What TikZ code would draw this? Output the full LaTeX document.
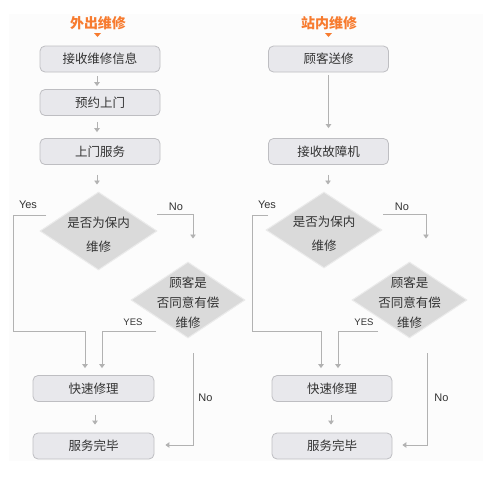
\documentclass[tikz,border=0pt]{standalone}
\usepackage{fontspec}
\setmainfont{Noto Sans CJK SC}
\newfontfamily\latinsans{Liberation Sans}
\usetikzlibrary{arrows.meta,shapes.geometric}
\definecolor{boxfill}{HTML}{E8E8EC}
\definecolor{boxline}{HTML}{BEBEC2}
\definecolor{dfill}{HTML}{DADADA}
\definecolor{dline}{HTML}{EBEBEB}
\definecolor{conn}{HTML}{B2B2B2}
\definecolor{txt}{HTML}{333333}
\definecolor{orng}{HTML}{F77B2F}
\definecolor{panel}{HTML}{FCFCFC}
\newcommand{\dtext}[3]{\raisebox{#1}[0pt][0pt]{\makebox[0pt]{\fontsize{12.5}{#2}\selectfont\begin{tabular}{@{}c@{}}#3\end{tabular}}}}
\tikzset{
  stepbox/.style={draw=boxline, fill=boxfill, rounded corners=5pt, line width=0.8pt,
    minimum width=120pt, minimum height=26pt, inner sep=0pt, text=txt, font=\fontsize{12.5}{14}\selectfont},
  decision/.style={diamond, draw=dline, fill=dfill, line width=1pt, inner sep=0pt,
    text=txt},
  title/.style={text=orng, font=\fontsize{14}{16}\selectfont\bfseries},
  conn/.style={draw=conn, line width=0.9pt, -{Triangle[width=5.5pt,length=4pt]}},
  lab/.style={text=txt, font=\latinsans\fontsize{11}{12}\selectfont, inner sep=0pt},
  labsm/.style={text=txt, font=\latinsans\fontsize{9.5}{11}\selectfont, inner sep=0pt}
}
\begin{document}
\begin{tikzpicture}[x=1pt,y=-1pt]
\useasboundingbox (0,0) rectangle (491,496);
\fill[panel] (9,14) rectangle (483,461);
% ---------- left column ----------
\node[title] (t1) at (98,23) {外出维修};
\fill[orng] (94,33) -- (101,33) -- (97.5,37) -- cycle;
\node[stepbox] (b1) at (100,59) {接收维修信息};
\node[stepbox] (b2) at (100,102.5) {预约上门};
\node[stepbox] (b3) at (100,151.5) {上门服务};
\node[decision, minimum width=117pt, minimum height=78pt] (d1) at (98.5,231) {\dtext{-7pt}{24}{是否为保内\\维修}};
\node[decision, minimum width=114pt, minimum height=76pt] (d2) at (188,300) {\dtext{-6pt}{20}{顾客是\\否同意有偿\\维修}};
\node[stepbox, minimum width=121pt] (b4) at (93.5,388.5) {快速修理};
\node[stepbox, minimum width=121pt] (b5) at (93.5,446) {服务完毕};

\draw[conn, shorten <=4pt, shorten >=3pt] (b1.south -| 97,0) -- (b2.north -| 97,0);
\draw[conn, shorten <=6pt, shorten >=6pt] (b2.south -| 97,0) -- (b3.north -| 97,0);
\draw[conn, shorten <=10pt, shorten >=7pt] (b3.south -| 97,0) -- (d1.north -| 97,0);
\draw[conn, shorten <=13pt, shorten >=8pt] (b4.south -| 95,0) -- (b5.north -| 95,0);

\coordinate (ly0) at (46,215);
\draw[conn, shorten >=7pt] (ly0) -- (13,215) -- (13,331) -- (85,331) -- (b4.north -| 85,0);
\coordinate (ln0) at (157,214);
\draw[conn, shorten >=23pt] (ln0) -- (193,214) -- (d2.north -| 193,0);
\coordinate (lY0) at (156,331);
\draw[conn, shorten >=7pt] (lY0) -- (102,331) -- (b4.north -| 102,0);
\coordinate (lN0) at (193,353);
\draw[conn, shorten >=11pt] (lN0) -- (193,445) -- (b5.east |- 0,445);

\node[lab] (ly) at (28,205) {Yes};
\node[lab] (ln) at (176,207) {No};
\node[labsm] (lY) at (133,322) {YES};
\node[lab] (lN) at (205.5,398) {No};

% ---------- right column ----------
\node[title] (t2) at (329,23) {站内维修};
\fill[orng] (325,33) -- (332,33) -- (328.5,37) -- cycle;
\node[stepbox] (r1) at (328.5,59) {顾客送修};
\node[stepbox] (r2) at (328.5,151.5) {接收故障机};
\node[decision, minimum width=116pt, minimum height=76pt] (rd1) at (324,230) {\dtext{-7pt}{24}{是否为保内\\维修}};
\node[decision, minimum width=115pt, minimum height=76pt] (rd2) at (409.5,300) {\dtext{-6pt}{20}{顾客是\\否同意有偿\\维修}};
\node[stepbox] (r4) at (332,388.5) {快速修理};
\node[stepbox] (r5) at (332,446) {服务完毕};

\draw[conn, shorten <=3pt, shorten >=10pt] (r1.south -| 328.5,0) -- (r2.north -| 328.5,0);
\draw[conn, shorten <=10pt, shorten >=7pt] (r2.south -| 328,0) -- (rd1.north -| 328,0);
\draw[conn, shorten <=13pt, shorten >=8pt] (r4.south -| 331,0) -- (r5.north -| 331,0);

\coordinate (ry0) at (268,215);
\draw[conn, shorten >=7pt] (ry0) -- (252,215) -- (252,331) -- (321,331) -- (r4.north -| 321,0);
\coordinate (rn0) at (383,214);
\draw[conn, shorten >=23pt] (rn0) -- (426,214) -- (rd2.north -| 426,0);
\coordinate (rY0) at (378,331);
\draw[conn, shorten >=7pt] (rY0) -- (338,331) -- (r4.north -| 338,0);
\coordinate (rN0) at (427,353);
\draw[conn, shorten >=10pt] (rN0) -- (427,445) -- (r5.east |- 0,445);

\node[lab] (ry) at (267,205) {Yes};
\node[lab] (rn) at (402,207) {No};
\node[labsm] (rY) at (364,322) {YES};
\node[lab] (rN) at (441.5,398) {No};
\end{tikzpicture}
\end{document}
